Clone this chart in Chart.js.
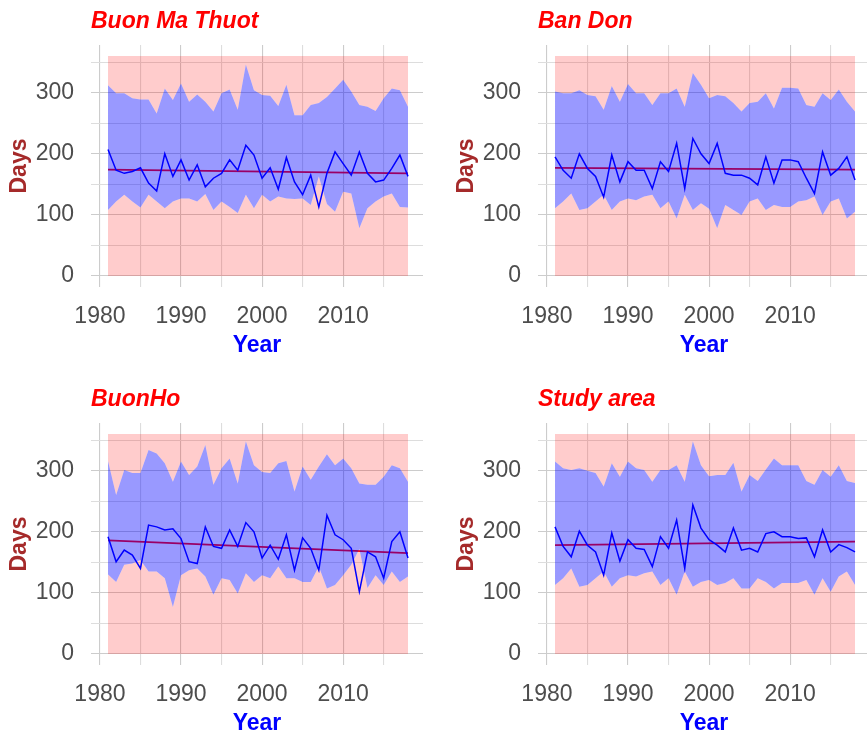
<!DOCTYPE html>
<html lang="en">
<head>
<meta charset="UTF-8">
<title>Days</title>
<script src="https://cdn.jsdelivr.net/npm/chart.js"></script>
<style>
    body{
        margin: 0;
        background: #fff;
        width: 867px;
        height: 735px;
        overflow: hidden;
        position: relative;
    }
    .panel{
        position: absolute;
        width: 433px;
        height: 367px;
    }
</style>
</head>
<body>
    <div class="panel" style="left:0;top:0"><canvas id="p0"></canvas></div>
    <div class="panel" style="left:447px;top:0"><canvas id="p1"></canvas></div>
    <div class="panel" style="left:0;top:378px"><canvas id="p2"></canvas></div>
    <div class="panel" style="left:447px;top:378px"><canvas id="p3"></canvas></div>

<script>
    const years = [1981,1982,1983,1984,1985,1986,1987,1988,1989,1990,
                   1991,1992,1993,1994,1995,1996,1997,1998,1999,2000,
                   2001,2002,2003,2004,2005,2006,2007,2008,2009,2010,
                   2011,2012,2013,2014,2015,2016,2017,2018];
    const xTicks = [1980,1985,1990,1995,2000,2005,2010,2015];
    const yTicks = [0,50,100,150,200,250,300,350];
    const topDays = 360;

    const titles = ['Buon Ma Thuot', 'Ban Don', 'BuonHo', 'Study area'];

    // Buon Ma Thuot
    const bmtUpper = [312,299,299,291,289,289,266,307,288,315,
                      285,297,285,269,299,305,272,346,304,296,
                      295,278,313,263,263,280,283,293,307,321,
                      302,280,277,270,291,307,304,277];
    const bmtLower = [108,122,133,122,112,133,122,111,122,127,
                      127,122,134,108,122,113,103,133,111,133,
                      122,130,127,126,127,116,163,118,105,138,
                      135,78,111,122,130,135,113,112];
    const bmtDays  = [207,173,168,171,177,152,139,200,163,190,
                      157,182,146,160,168,190,173,214,198,160,
                      177,142,194,154,133,165,113,168,203,184,
                      165,203,168,154,157,176,198,163];

    // Ban Don
    const bdUpper = [302,299,299,304,296,294,272,311,285,314,
                     299,299,280,299,299,307,277,332,313,291,
                     296,294,283,269,283,285,299,274,308,308,
                     307,280,277,299,288,305,285,269];
    const bdLower = [111,122,135,108,111,122,133,108,122,127,
                     124,130,133,111,122,94,133,108,119,110,
                     78,116,108,100,122,127,108,116,113,113,
                     122,124,130,100,122,127,94,105];
    const bdDays  = [195,173,160,200,176,163,129,198,154,187,
                     173,173,143,187,171,217,143,225,200,184,
                     217,168,165,165,160,149,195,152,190,190,
                     187,160,135,203,165,176,195,157];

    // BuonHo
    const bhUpper = [316,260,301,296,296,334,328,312,282,315,
                     293,307,342,277,304,320,279,348,309,298,
                     296,312,316,266,307,285,307,327,309,320,
                     304,279,277,277,290,309,304,282];
    const bhLower = [130,118,146,148,154,135,135,124,77,129,
                     137,140,127,97,124,121,99,132,118,129,
                     124,143,124,124,118,118,143,107,113,129,
                     146,172,108,129,113,135,118,127];
    const bhDays  = [192,151,170,162,140,211,208,203,205,189,
                     151,148,208,176,173,203,176,215,200,157,
                     178,155,195,137,190,173,137,227,195,187,
                     173,102,167,159,124,184,200,157];

    // Study area
    const saUpper = [315,304,301,304,300,296,274,312,290,315,
                     304,301,282,301,301,309,282,348,309,291,
                     293,293,313,266,293,283,302,320,309,309,
                     309,283,277,301,290,309,283,280];
    const saLower = [113,124,140,110,113,124,135,110,124,129,
                     127,132,135,113,124,97,135,110,118,121,
                     113,116,124,107,107,124,118,107,116,116,
                     116,121,97,124,102,127,135,113];
    const saDays  = [208,176,159,201,178,167,129,198,152,187,
                     173,171,143,192,173,219,140,244,206,187,
                     178,167,206,170,173,167,197,200,192,192,
                     189,190,159,203,167,179,174,167];

    const upperSets = [bmtUpper, bdUpper, bhUpper, saUpper];
    const lowerSets = [bmtLower, bdLower, bhLower, saLower];
    const daySets   = [bmtDays, bdDays, bhDays, saDays];
    const trendStart = [174, 177, 186, 178];
    const trendEnd   = [168, 174, 165, 184];

    Chart.defaults.font.family = '"Liberation Sans", Arial, sans-serif';

    const pink = 'rgba(255,0,0,0.2)';
    const none = 'rgba(0,0,0,0)';
    const tickFont = {size: 23};
    const tickColor = '#4D4D4D';

    function pts(arr){
        return years.map((yr, i) => ({x: yr, y: arr[i]}));
    }

    function gridColor(ctx, step){
        return ctx.tick && ctx.tick.value % step === 0 ? '#CCCCCC' : '#DDDDDD';
    }

    // panel title left-aligned on the plot area
    const panelTitle = {
        id: 'panelTitle',
        afterDraw(chart, args, opts){
            const ctx = chart.ctx;
            ctx.save();
            ctx.font = 'italic bold 23px "Liberation Sans", Arial, sans-serif';
            ctx.fillStyle = '#FF0000';
            ctx.textBaseline = 'alphabetic';
            ctx.fillText(opts.text, chart.chartArea.left, 28);
            ctx.restore();
        }
    };

    function makePanel(k){
        return new Chart(document.getElementById('p' + k), {
            type: 'line',
            data: {
                datasets: [
                {
                    data: pts(daySets[k]),
                    borderColor: '#0000FF',
                    borderWidth: 1.5,
                    pointRadius: 0,
                    fill: false,
                    order: 0
                },
                {
                    data: pts(upperSets[k]),
                    borderColor: none,
                    borderWidth: 0,
                    pointRadius: 0,
                    backgroundColor: 'rgba(0,0,255,0.4)',
                    fill: 3,
                    order: 1
                },
                {
                    data: pts(upperSets[k]),
                    borderColor: none,
                    borderWidth: 0,
                    pointRadius: 0,
                    backgroundColor: pink,
                    fill: {value: topDays},
                    order: 2
                },
                {
                    data: pts(lowerSets[k]),
                    borderColor: none,
                    borderWidth: 0,
                    pointRadius: 0,
                    backgroundColor: pink,
                    fill: 'origin',
                    order: 2
                },
                {
                    data: [{x: years[0], y: trendStart[k]}, {x: years[years.length - 1], y: trendEnd[k]}],
                    borderColor: '#FF0000',
                    borderWidth: 1.8,
                    pointRadius: 0,
                    fill: false,
                    order: 3
                }
                ]
            },
            options: {
                responsive: true,
                maintainAspectRatio: false,
                animation: false,
                events: [],
                layout: {padding: {top: 45, right: 10, left: 0, bottom: 0}},
                elements: {line: {tension: 0}},
                scales: {
                    x: {
                        type: 'linear',
                        min: 1978.9,
                        max: 2019.85,
                        afterBuildTicks: s => { s.ticks = xTicks.map(v => ({value: v})); },
                        afterFit: s => { s.height = 80; },
                        ticks: {
                            callback: v => v % 10 === 0 ? String(v) : '',
                            font: tickFont,
                            color: tickColor,
                            padding: 16,
                            maxRotation: 0,
                            autoSkip: false
                        },
                        grid: {
                            color: ctx => gridColor(ctx, 10),
                            lineWidth: 1.1,
                            drawTicks: false
                        },
                        border: {display: false},
                        title: {
                            display: true,
                            text: 'Year',
                            color: '#0000FF',
                            font: {size: 23, weight: 'bold'},
                            padding: {top: 0, bottom: 8}
                        }
                    },
                    y: {
                        min: -18,
                        max: 378,
                        afterBuildTicks: s => { s.ticks = yTicks.map(v => ({value: v})); },
                        afterFit: s => { s.width = 91; },
                        ticks: {
                            callback: v => v % 100 === 0 ? String(v) : '',
                            font: tickFont,
                            color: tickColor,
                            padding: 17,
                            autoSkip: false
                        },
                        grid: {
                            color: ctx => gridColor(ctx, 100),
                            lineWidth: 1.1,
                            drawTicks: false
                        },
                        border: {display: false},
                        title: {
                            display: true,
                            text: 'Days',
                            color: '#A52A2A',
                            font: {size: 23, weight: 'bold'},
                            padding: {top: 6, bottom: 0}
                        }
                    }
                },
                plugins: {
                    legend: {display: false},
                    tooltip: {enabled: false},
                    panelTitle: {text: titles[k]}
                }
            },
            plugins: [panelTitle]
        });
    }

    for (let k = 0; k < 4; k++) makePanel(k);
</script>
</body>
</html>
